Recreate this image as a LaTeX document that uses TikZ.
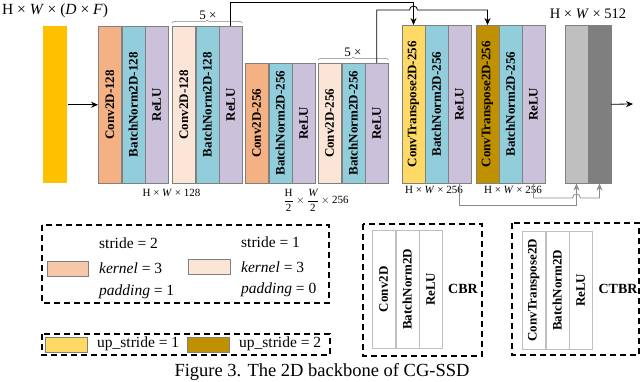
\documentclass[tikz,border=0pt]{standalone}
\usepackage{fontspec}
\setmainfont{Liberation Serif}
\usepackage{tikz}
\usetikzlibrary{arrows.meta, positioning, calc, decorations.pathreplacing}
\definecolor{inyellow}{RGB}{255, 192, 0}
\definecolor{convtwo}{RGB}{244, 177, 131}
\definecolor{convone}{RGB}{251, 229, 214}
\definecolor{bnblue}{RGB}{146, 205, 220}
\definecolor{relupurple}{RGB}{204, 193, 218}
\definecolor{upone}{RGB}{255, 217, 102}
\definecolor{uptwo}{RGB}{191, 144, 0}
\definecolor{lightgrey}{RGB}{191, 191, 191}
\definecolor{darkgrey}{RGB}{127, 127, 127}
\definecolor{edgegray}{RGB}{128, 128, 128}
\definecolor{linkgray}{RGB}{140, 140, 140}

\begin{document}
\begin{tikzpicture}[x=1pt, y=1pt, >={Stealth[length=7pt, width=6pt]},
    col/.style={draw=edgegray, line width=0.5pt, minimum width=23pt, inner sep=0pt,
                font=\bfseries\fontsize{13}{13}\selectfont},
    narrow/.style={minimum width=22.5pt},
    tallcol/.style={minimum height=157pt},
    midcol/.style={minimum height=120pt},
    upcol/.style={minimum height=158pt},
    keycol/.style={col, draw=lightgrey, fill=white, minimum height=118pt},
    dimtext/.style={font=\fontsize{11}{12}\selectfont, inner sep=0pt},
    reptext/.style={font=\fontsize{13}{13}\selectfont, inner sep=0pt},
    legtext/.style={font=\fontsize{15.5}{16}\selectfont, anchor=west, inner sep=0pt},
    swatch/.style={draw=edgegray, line width=0.5pt, minimum width=41pt, minimum height=15pt, inner sep=0pt},
    legbox/.style={line width=1.2pt, dash pattern=on 6pt off 4pt},
    rep/.style={edgegray, line width=0.5pt, decorate, decoration={brace, amplitude=3pt}},
    link/.style={->, line width=0.8pt},
    gconn/.style={->, linkgray, line width=0.8pt}]
    \useasboundingbox (0,0) rectangle (640,-382);

    % input feature
    \node[col, draw=none, fill=inyellow, tallcol, minimum width=24pt, anchor=north west] (in) at (43,-26) {};
    \node[font=\fontsize{15.5}{16}\selectfont, inner sep=0pt] (insize) at (55,-11) {H × \textit{W} × (\textit{D} × \textit{F})};

    % stage 1
    \node[col, tallcol, fill=convtwo, anchor=north west] (g1c) at (98,-26) {\rotatebox{90}{Conv2D-128}};
    \node[col, tallcol, fill=bnblue, right=0pt of g1c] (g1b) {\rotatebox{90}{BatchNorm2D-128}};
    \node[col, tallcol, fill=relupurple, right=0pt of g1b] (g1r) {\rotatebox{90}{ReLU}};
    \node[col, tallcol, fill=convone, anchor=north west] (g2c) at (172,-26) {\rotatebox{90}{Conv2D-128}};
    \node[col, tallcol, fill=bnblue, right=0pt of g2c] (g2b) {\rotatebox{90}{BatchNorm2D-128}};
    \node[col, tallcol, fill=relupurple, right=0pt of g2b] (g2r) {\rotatebox{90}{ReLU}};
    \draw[rep] ([yshift=3pt]g2c.north west) -- ([yshift=3pt]g2r.north east);
    \node[reptext] (rep1) at (208,-15) {5 ×};
    \node[dimtext] (size1) at (171.5,-193) {H × \textit{W} × 128};

    % stage 2
    \node[col, midcol, fill=convtwo, anchor=north west] (g3c) at (245,-63) {\rotatebox{90}{Conv2D-256}};
    \node[col, midcol, fill=bnblue, right=0pt of g3c] (g3b) {\rotatebox{90}{BatchNorm2D-256}};
    \node[col, midcol, fill=relupurple, right=0pt of g3b] (g3r) {\rotatebox{90}{ReLU}};
    \node[col, midcol, fill=convone, anchor=north west] (g4c) at (318,-63) {\rotatebox{90}{Conv2D-256}};
    \node[col, midcol, fill=bnblue, right=0pt of g4c] (g4b) {\rotatebox{90}{BatchNorm2D-256}};
    \node[col, midcol, fill=relupurple, right=0pt of g4b] (g4r) {\rotatebox{90}{ReLU}};
    \draw[rep] ([yshift=3pt]g4c.north west) -- ([yshift=3pt]g4r.north east);
    \node[reptext] (rep2) at (353,-52) {5 ×};
    \node[dimtext] (size2) at (316,-200) {$\displaystyle\frac{\mbox{H}}{\mbox{2}}\times\frac{\mbox{\itshape W}}{\mbox{2}}\times\mbox{256}$};

    % upsampling
    \node[col, narrow, upcol, fill=upone, anchor=north west] (g5c) at (402,-25) {\rotatebox{90}{ConvTranspose2D-256}};
    \node[col, narrow, upcol, fill=bnblue, right=0pt of g5c] (g5b) {\rotatebox{90}{BatchNorm2D-256}};
    \node[col, narrow, upcol, fill=relupurple, right=0pt of g5b] (g5r) {\rotatebox{90}{ReLU}};
    \node[dimtext] (size3) at (434,-190) {H × \textit{W} × 256};
    \node[col, narrow, upcol, fill=uptwo, anchor=north west] (g6c) at (476,-25) {\rotatebox{90}{ConvTranspose2D-256}};
    \node[col, narrow, upcol, fill=bnblue, right=0pt of g6c] (g6b) {\rotatebox{90}{BatchNorm2D-256}};
    \node[col, narrow, upcol, fill=relupurple, right=0pt of g6b] (g6r) {\rotatebox{90}{ReLU}};
    \node[dimtext] (size4) at (513,-190) {H × \textit{W} × 256};

    % concatenation
    \node[col, narrow, upcol, fill=lightgrey, anchor=north west] (gy1) at (565,-25) {};
    \node[col, narrow, upcol, fill=darkgrey, right=0pt of gy1] (gy2) {};
    \node[font=\fontsize{14.5}{15}\selectfont, inner sep=0pt] (size5) at (588,-14) {H × \textit{W} × 512};
    \coordinate (out) at (633,-104);

    \draw[link] (in.east) -- (g1c.west);
    \draw[link] (gy2.east) -- (out);
    \draw[link] (g2r.north) -- ++(0,24) -| (g5c.north);
    \coordinate (hopa) at (g5c.north |- 0,-10);
    \draw[link] (g4r.north) |- ([xshift=-4pt]hopa) arc[start angle=180, end angle=0, radius=4pt] -| (g6c.north);
    \coordinate (hopb) at (gy1.south |- 0,-198);
    \draw[gconn] (g5r.south) -- ++(0,-22) -| (gy1.south);
    \draw[gconn] (g6r.south) |- ([xshift=-4pt]hopb) arc[start angle=180, end angle=0, radius=4pt] -| (gy2.south);

    % legend: convolutions
    \draw[legbox] (42,-225) rectangle (329,-303);
    \node[swatch, fill=convtwo!70!white] (sw1) at (67.5,-269) {};
    \node[legtext] (st2) at (99,-243) {stride = 2};
    \node[legtext] (k2) at (99,-268) {\textit{kernel} = 3};
    \node[legtext] (p2) at (99,-292) {\textit{padding} = 1};
    \node[swatch, minimum width=42pt, fill=convone] (sw2) at (209,-266.5) {};
    \node[legtext] (st1) at (241,-242) {stride = 1};
    \node[legtext] (k1) at (241,-267) {\textit{kernel} = 3};
    \node[legtext] (p1) at (241,-290) {\textit{padding} = 0};

    % legend: up strides
    \draw[legbox] (42,-334) rectangle (330,-355);
    \node[swatch, minimum width=42pt, fill=upone] (sw3) at (66,-345) {};
    \node[legtext] (us1) at (97,-344) {up\_stride = 1};
    \node[swatch, minimum width=42pt, fill=uptwo] (sw4) at (208,-345) {};
    \node[legtext] (us2) at (239,-344) {up\_stride = 2};

    % legend: CBR
    \draw[legbox] (363,-224) rectangle (482,-356);
    \node[keycol, anchor=north west] (kc) at (372,-230) {\rotatebox{90}{Conv2D}};
    \node[keycol, right=0pt of kc] (kb) {\rotatebox{90}{BatchNorm2D}};
    \node[keycol, right=0pt of kb] (kr) {\rotatebox{90}{ReLU}};
    \node[font=\bfseries\fontsize{14}{14}\selectfont, inner sep=0pt] (cbr) at (463,-289) {CBR};

    % legend: CTBR
    \draw[legbox] (512,-223) rectangle (639,-355);
    \node[keycol, anchor=north west] (tc) at (522,-231) {\rotatebox{90}{ConvTranspose2D}};
    \node[keycol, right=0pt of tc] (tb) {\rotatebox{90}{BatchNorm2D}};
    \node[keycol, right=0pt of tb] (tr) {\rotatebox{90}{ReLU}};
    \node[font=\bfseries\fontsize{14}{14}\selectfont, inner sep=0pt] (ctbr) at (618,-289) {CTBR};

    \node[font=\fontsize{18.5}{19}\selectfont, inner sep=0pt] (caption) at (322,-372) {Figure 3. The 2D backbone of CG-SSD};
\end{tikzpicture}
\end{document}
